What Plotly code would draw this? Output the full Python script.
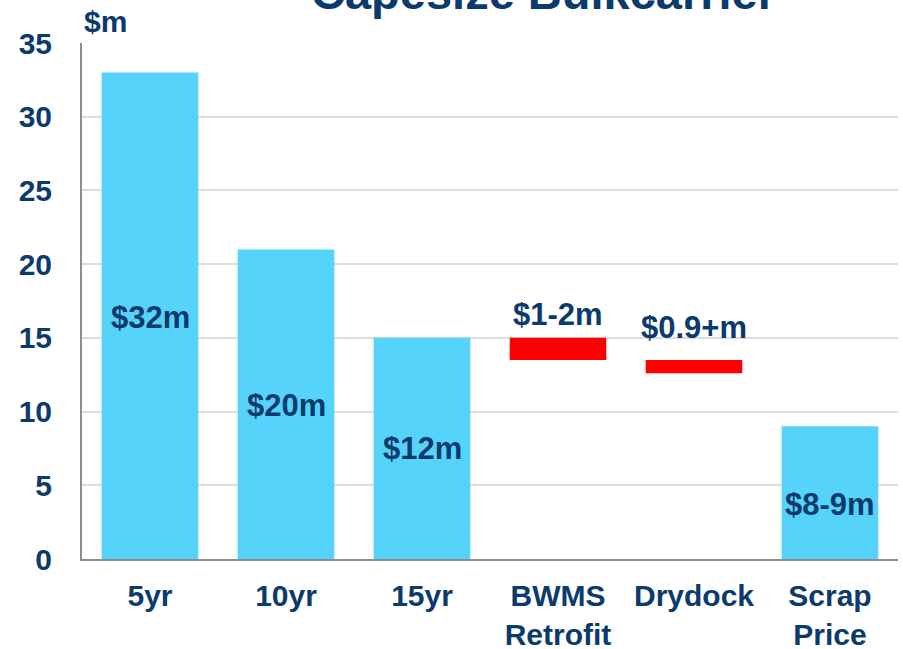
import plotly.graph_objects as go

categories = ["5yr", "10yr", "15yr", "BWMS<br>Retrofit", "Drydock", "Scrap<br>Price"]
values = [33, 21, 15, None, None, 9]
cost_low = [None, None, None, 13.5, 12.6, None]
cost_high = [None, None, None, 15.0, 13.5, None]
value_labels = ["$32m", "$20m", "$12m", "$1-2m", "$0.9+m", "$8-9m"]
label_y = [16.4, 10.4, 7.5, 16.6, 15.7, 3.7]
y_ticks = [0, 5, 10, 15, 20, 25, 30, 35]

NAVY = "#0B3A6C"
FONT = "Liberation Sans, Arial, sans-serif"

cost_height = [None if lo is None else hi - lo for lo, hi in zip(cost_low, cost_high)]

def f(size):
    return dict(family=FONT, size=size, color=NAVY, weight="bold")

fig = go.Figure()
fig.add_trace(go.Bar(x=categories, y=values, marker=dict(color="#55D3FA", line=dict(width=0)),
                     width=0.71, hoverinfo="skip"))
fig.add_trace(go.Bar(x=categories, y=cost_height, base=cost_low,
                     marker=dict(color="#FF0000", line=dict(width=0)), width=0.71, hoverinfo="skip"))

for c, t, y in zip(categories, value_labels, label_y):
    fig.add_annotation(x=c, y=y, text=t, showarrow=False, xref="x", yref="y",
                       font=f(31), yanchor="middle")

fig.add_annotation(x=0, y=1.0, xref="paper", yref="paper", text="$m", showarrow=False,
                   xanchor="left", yanchor="bottom", yshift=3, font=f(30))
fig.add_annotation(x=0.565, y=1.0, xref="paper", yref="paper", text="Capesize Bulkcarrier",
                   showarrow=False, xanchor="center", yanchor="bottom", yshift=22, font=f(47))

fig.update_layout(
    width=903, height=649,
    margin=dict(l=82, r=5, t=43, b=90),
    paper_bgcolor="white", plot_bgcolor="white",
    barmode="overlay", showlegend=False,
    font=f(30),
)
fig.update_xaxes(showgrid=False, showline=True, linecolor="#8C8C8C", linewidth=2,
                 tickfont=f(30), ticks="", ticklabelstandoff=9, automargin=False)
fig.update_yaxes(range=[0, 35], tickvals=y_ticks, showgrid=True, gridcolor="#DCDCDC", gridwidth=2,
                 showline=True, linecolor="#8C8C8C", linewidth=2, zeroline=False,
                 tickfont=f(30), ticks="", ticklabelstandoff=22, automargin=False)

fig.write_html("out.html")
